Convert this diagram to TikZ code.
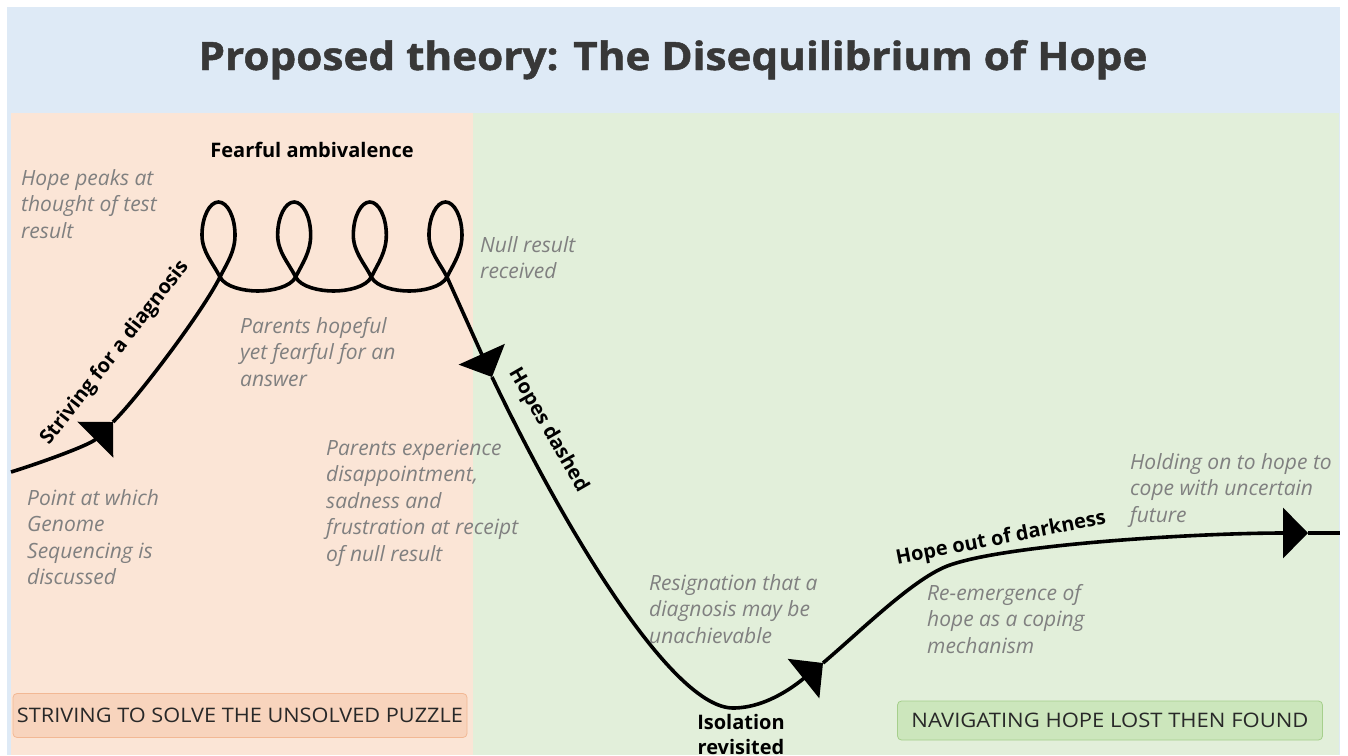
\documentclass[tikz,border=0pt]{standalone}
\usepackage{fontspec}
\usepackage{graphicx}
\setmainfont{Open Sans}
\usetikzlibrary{arrows.meta}
\definecolor{band}{RGB}{222,234,246}
\definecolor{peach}{RGB}{251,229,214}
\definecolor{mint}{RGB}{226,239,218}
\definecolor{txtgray}{RGB}{128,128,128}
\definecolor{titlegray}{RGB}{56,56,56}
\definecolor{boxpeach}{RGB}{248,212,189}
\definecolor{boxpeachline}{RGB}{242,184,148}
\definecolor{boxmint}{RGB}{204,230,188}
\definecolor{boxmintline}{RGB}{166,207,140}
\definecolor{boxtext}{RGB}{40,40,40}
\newcommand{\mylines}[1]{\begin{tabular}[t]{@{}l@{}}#1\end{tabular}}
\newcommand{\mycenterlines}[1]{\begin{tabular}[t]{@{}c@{}}#1\end{tabular}}
\begin{document}
\begin{tikzpicture}[x=1pt,y=-1pt,
  note/.style={anchor=base west, inner sep=0pt, text=txtgray, font=\fontsize{21}{26.5}\selectfont\itshape},
  lbl/.style={inner sep=0pt, font=\fontsize{20}{25}\selectfont\bfseries},
  curve/.style={line width=3.6pt, line join=round, draw=black},
  tipped/.style={-{Triangle[length=25pt,width=50pt]}},
  phase/.style={rounded corners=4pt, line width=0.8pt, inner sep=0pt, text=boxtext, font=\fontsize{20}{24}\selectfont}]
\useasboundingbox (0,0) rectangle (1348,755);
\fill[white] (0,0) rectangle (1348,755);
\fill[band] (7,7) rectangle (1340,755);
\fill[peach] (11,113) rectangle (473,755);
\fill[mint] (473,113) rectangle (1339,755);

% title
\node[anchor=base, inner sep=0pt, text=titlegray, font=\fontsize{39}{44}\selectfont\bfseries] (title) at (673,70)
  {\resizebox{949pt}{\height}{\addfontfeature{FakeBold=1.2}Proposed theory: The Disequilibrium of Hope}};

% key points of the curve
\coordinate (P0) at (11,472);
\coordinate (A1) at (113,422);
\coordinate (C1) at (220,277);
\coordinate (A2) at (492,377);
\coordinate (B)  at (733,708);
\coordinate (A3) at (823,663);
\coordinate (K)  at (950,565);
\coordinate (A4) at (1308,533);
\coordinate (E)  at (1340,533);

\draw[curve,tipped] (P0) .. controls (40,463) and (90,445) .. (A1);
\draw[curve,tipped] (A1) .. controls (140,395) and (203,311) .. (C1)
  \foreach \k in {1,2,3} {
    .. controls +(7,-14) and +(0,17) .. ++(15,-42)
    .. controls +(0,-18) and +(9,0) .. ++(-16.5,-33)
    .. controls +(-9,0) and +(0,-18) .. ++(-16.5,33)
    .. controls +(0,17) and +(-7,-14) .. ++(18,42)
    .. controls +(5,10) and +(-14,0) .. ++(37.83,14)
    .. controls +(14,0) and +(-5,10) .. ++(37.83,-14)
  }
    .. controls +(7,-14) and +(0,17) .. ++(15,-42)
    .. controls +(0,-18) and +(9,0) .. ++(-16.5,-33)
    .. controls +(-9,0) and +(0,-18) .. ++(-16.5,33)
    .. controls +(0,17) and +(-7,-14) .. ++(18,42)
  -- (A2);
\draw[curve,tipped] (A2) .. controls (567,534) and (673,708) .. (B)
  .. controls (768,708) and (798,683) .. (A3);
\draw[curve,tipped] (A3) .. controls (863,629) and (915,577) .. (K)
  .. controls (1010,544) and (1200,533) .. (A4);
\draw[curve] (A4) -- (E);

% curve labels
\node[lbl] (fear) at (312,157) [anchor=base] {Fearful ambivalence};
\node[lbl, rotate=52] (striving) at (115,353) {Striving for a diagnosis};
\node[lbl, rotate=-60] (dashed) at (548,430) {Hopes dashed};
\node[lbl, rotate=11] (darkness) at (1001,539) {Hope out of darkness};
\node[lbl, anchor=base] (isolation) at (741,729) {\mycenterlines{Isolation\\revisited}};

% notes
\node[note] (n1) at (21,185) {\mylines{Hope peaks at\\thought of test\\result}};
\node[note] (n2) at (480,252) {\mylines{Null result\\received}};
\node[note] (n3) at (240,333) {\mylines{Parents hopeful\\yet fearful for an\\answer}};
\node[note] (n4) at (326,455) {\mylines{Parents experience\\disappointment,\\sadness and\\frustration at receipt\\of null result}};
\node[note] (n5) at (27,505) {\mylines{Point at which\\Genome\\Sequencing is\\discussed}};
\node[note] (n6) at (649,590) {\mylines{Resignation that a\\diagnosis may be\\unachievable}};
\node[note] (n7) at (927,600) {\mylines{Re-emergence of\\hope as a coping\\mechanism}};
\node[note] (n8) at (1130,469) {\mylines{Holding on to hope to\\cope with uncertain\\future}};

% phase boxes
\node[phase, fill=boxpeach, draw=boxpeachline, minimum width=454pt, minimum height=44pt] (phase1) at (240,715.5)
  {\resizebox{446pt}{\height}{STRIVING TO SOLVE THE UNSOLVED PUZZLE}};
\node[phase, fill=boxmint, draw=boxmintline, minimum width=425pt, minimum height=39pt] (phase2) at (1110,720.5)
  {\resizebox{397pt}{\height}{NAVIGATING HOPE LOST THEN FOUND}};
\end{tikzpicture}
\end{document}
